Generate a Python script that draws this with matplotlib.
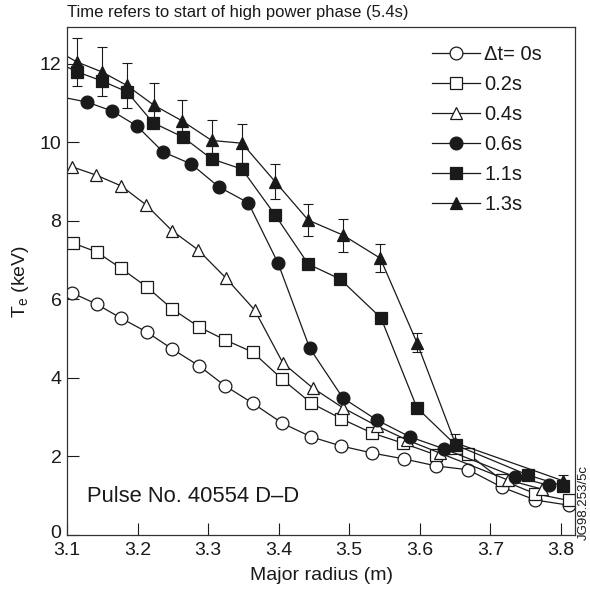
import matplotlib
matplotlib.use("Agg")
import matplotlib.pyplot as plt
import matplotlib.transforms as mtransforms

plt.rcParams['font.family'] = ['Liberation Sans', 'DejaVu Sans']

# ---- data ----
x_00 = [3.107, 3.142, 3.176, 3.213, 3.249, 3.287, 3.324, 3.363, 3.405, 3.446,
        3.488, 3.532, 3.577, 3.623, 3.669, 3.716, 3.764, 3.811]
y_00 = [6.17, 5.88, 5.53, 5.17, 4.74, 4.31, 3.80, 3.36, 2.85, 2.50,
        2.27, 2.09, 1.94, 1.76, 1.66, 1.22, 0.89, 0.76]

x_02 = [3.108, 3.142, 3.176, 3.213, 3.249, 3.287, 3.324, 3.363, 3.405, 3.446,
        3.489, 3.532, 3.576, 3.623, 3.669, 3.716, 3.764, 3.811]
y_02 = [7.44, 7.21, 6.80, 6.32, 5.76, 5.30, 4.97, 4.66, 3.97, 3.36,
        2.96, 2.60, 2.34, 2.04, 2.06, 1.40, 1.05, 0.88]

x_04 = [3.107, 3.141, 3.177, 3.212, 3.249, 3.286, 3.325, 3.366, 3.406, 3.448,
        3.491, 3.539, 3.582, 3.628, 3.725, 3.773]
y_04 = [9.38, 9.17, 8.89, 8.41, 7.75, 7.26, 6.55, 5.73, 4.38, 3.75,
        3.24, 2.78, 2.42, 2.09, 1.40, 1.17]

x_06 = [3.08, 3.128, 3.164, 3.199, 3.236, 3.276, 3.315, 3.357, 3.399, 3.444,
        3.491, 3.539, 3.586, 3.635, 3.735, 3.783]
y_06 = [11.2, 11.03, 10.80, 10.42, 9.76, 9.45, 8.87, 8.46, 6.93, 4.76,
        3.49, 2.93, 2.50, 2.19, 1.48, 1.27]

x_11 = [3.08, 3.114, 3.149, 3.185, 3.222, 3.264, 3.305, 3.348, 3.395, 3.442,
        3.487, 3.545, 3.596, 3.651, 3.753, 3.803]
y_11 = [12.1, 11.80, 11.57, 11.29, 10.50, 10.14, 9.58, 9.32, 8.15, 6.90,
        6.52, 5.53, 3.24, 2.29, 1.53, 1.25]

x_13 = [3.08, 3.114, 3.149, 3.185, 3.223, 3.263, 3.305, 3.348, 3.395, 3.442,
        3.491, 3.544, 3.596, 3.650, 3.803]
y_13 = [12.4, 12.05, 11.80, 11.45, 10.95, 10.55, 10.05, 9.98, 9.00, 8.02,
        7.64, 7.05, 4.90, 2.35, 1.38]
e_13 = [0.0, 0.62, 0.62, 0.58, 0.57, 0.53, 0.52, 0.50, 0.45, 0.40,
        0.42, 0.36, 0.25, 0.22, 0.15]

labels = ["\u0394t= 0s", "0.2s", "0.4s", "0.6s", "1.1s", "1.3s"]
x_ticks = [3.1, 3.2, 3.3, 3.4, 3.5, 3.6, 3.7, 3.8]
y_ticks = [0, 2, 4, 6, 8, 10, 12]

# ---- figure ----
fig = plt.figure(figsize=(5.9, 5.93), dpi=100)
ax = fig.add_axes([67/590, 1 - 535/593, (575-67)/590, (535-27)/593])

ink = '#1a1a1a'
ms = 9.2
lw = 0.9
common = dict(color=ink, lw=lw, markersize=ms, markeredgewidth=0.9,
              markeredgecolor=ink)

ax.plot(x_00, y_00, marker='o', markerfacecolor='white', label=labels[0], **common)
ax.plot(x_02, y_02, marker='s', markerfacecolor='white', label=labels[1], **common)
ax.plot(x_04, y_04, marker='^', markerfacecolor='white', label=labels[2], **common)
ax.plot(x_06, y_06, marker='o', markerfacecolor=ink, label=labels[3], **common)
ax.plot(x_11, y_11, marker='s', markerfacecolor=ink, label=labels[4], **common)
ax.errorbar(x_13, y_13, yerr=e_13, fmt='none',
            ecolor=ink, elinewidth=0.8, capsize=3.3, capthick=0.8)
ax.plot(x_13, y_13, marker='^', markerfacecolor=ink, label=labels[5], **common)

ax.set_xlim(3.1, 3.82)
ax.set_ylim(0, 12.94)
ax.set_xticks(x_ticks)
ax.set_yticks(y_ticks)
ax.set_xticklabels([f"{v:.1f}" for v in x_ticks])
ax.set_yticklabels([str(v) for v in y_ticks])
ax.tick_params(direction='in', length=8.6, width=0.8, labelsize=14,
               colors=ink, pad=4)
ax.tick_params(axis='x', pad=5)
for s in ax.spines.values():
    s.set_linewidth(0.9)
    s.set_color('#333333')

# the "0" label sits slightly raised in the reference, just touching "3.1"
zero_lbl = ax.get_yticklabels()[0]
zero_lbl.set_transform(zero_lbl.get_transform() +
                       mtransforms.ScaledTranslation(0, 4/100, fig.dpi_scale_trans))

ax.set_xlabel("Major radius (m)", fontsize=14, color=ink, labelpad=6)
ax.set_ylabel("T$_\\mathregular{e}$ (keV)", fontsize=14, color=ink, labelpad=6)

fig.text(67/590, 1 - 12/593, "Time refers to start of high power phase (5.4s)",
         fontsize=12, ha='left', va='center', color=ink)
ax.text(0.04, 0.075, "Pulse No. 40554 D\u2013D", transform=ax.transAxes,
        fontsize=15.8, ha='left', va='center', color=ink)
fig.text(584/590, 1 - 540/593, "JG98.253/5c", rotation=90, fontsize=9.5,
         ha='center', va='bottom', color=ink)

leg = ax.legend(loc='upper left', bbox_to_anchor=(0.718, 0.965), frameon=False,
                fontsize=14.5, handlelength=2.4, handletextpad=0.2,
                labelspacing=0.55, borderpad=0, borderaxespad=0)
for t in leg.get_texts():
    t.set_color(ink)

fig.savefig("out.png", dpi=100)
